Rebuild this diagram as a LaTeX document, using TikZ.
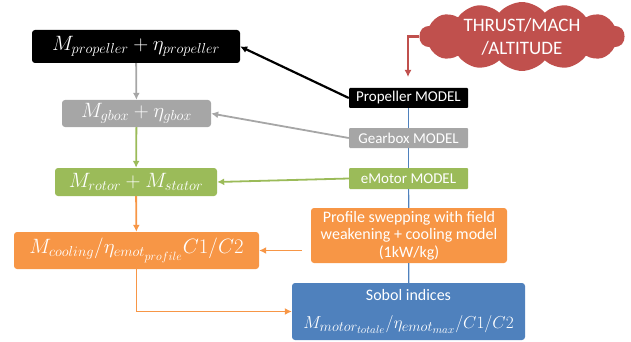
\documentclass[tikz,border=0pt]{standalone}
\usepackage{fontspec}
\setmainfont{Carlito}
\usetikzlibrary{arrows.meta,shapes.symbols}
\definecolor{gboxgray}{RGB}{166,166,166}
\definecolor{motgreen}{RGB}{155,187,89}
\definecolor{coolorange}{RGB}{247,150,70}
\definecolor{sobolblue}{RGB}{79,129,189}
\definecolor{cloudred}{RGB}{192,80,77}
\DeclareMathSizes{21}{21}{15.5}{12}
\DeclareMathSizes{18}{18}{13.5}{10.5}
\begin{document}
\begin{tikzpicture}[x=1pt,y=-1pt,
	box/.style={rounded corners=3pt,text=white,inner sep=0pt,align=center},
	res/.style={box,font=\fontsize{21}{24}\selectfont},
	model/.style={box,rounded corners=1pt,minimum width=119pt,minimum height=20pt,font=\fontsize{15}{18}\selectfont},
	link/.style={draw=sobolblue,line width=1.2pt},
	arr/.style={line width=1.8pt,-{Latex[length=7pt,width=7pt]}}]
	\useasboundingbox (0,0) rectangle (631,342);
	% results column
	\node[res,fill=black,minimum width=208pt,minimum height=33pt] (prop) at (136,46.5){$M_{propeller}+\eta_{propeller}$};
	\node[res,fill=gboxgray,minimum width=149pt,minimum height=27pt] (gbox) at (136.5,113.5){$M_{gbox}+\eta_{gbox}$};
	\node[res,fill=motgreen,minimum width=162pt,minimum height=28pt] (rotor) at (136,182){$M_{rotor}+M_{stator}$};
	\node[res,fill=coolorange,minimum width=245pt,minimum height=37pt] (cooling) at (136.5,250.5){$M_{cooling}/\eta_{emot_{profile}}C1/C2$};
	% models column
	\node[model,fill=black] (propmodel) at (408.5,98){Propeller MODEL};
	\node[model,fill=gboxgray] (gearmodel) at (408.5,138){Gearbox MODEL};
	\node[model,fill=motgreen,minimum height=21pt] (emotmodel) at (408.5,178.5){eMotor MODEL};
	\node[box,fill=coolorange,minimum width=196pt,minimum height=55pt,font=\fontsize{16}{17.5}\selectfont] (profile) at (409,235.5){Profile swepping with field\\weakening + cooling model\\(1kW/kg)};
	\node[box,fill=sobolblue,minimum width=233pt,minimum height=57pt,font=\fontsize{16}{28}\selectfont] (sobol) at (408.5,311.5){Sobol indices\\\fontsize{18}{28}\selectfont$M_{motor_{totale}}/\eta_{emot_{max}}/C1/C2$};
	\node[cloud,cloud puffs=14,cloud puff arc=100,aspect=3.3,fill=cloudred,text=white,inner sep=0pt,minimum width=205pt,minimum height=63pt,align=center,font=\fontsize{19}{23}\selectfont] (cloud) at (522,36.5){THRUST/MACH\\/ALTITUDE};
	\coordinate (thrustin) at (408,77);
	% connectors
	\draw[link] (propmodel) -- (gearmodel); \draw[link] (gearmodel) -- (emotmodel);
	\draw[link] (emotmodel) -- (profile); \draw[link] (profile) -- (sobol);
	\draw[arr,line width=2.2pt,cloudred] (cloud.west) -| (thrustin);
	\draw[arr,line width=2.2pt] (propmodel.west) -- (prop.east);
	\draw[arr,gboxgray] (gearmodel.west) -- (gbox.east);
	\draw[arr,motgreen] (emotmodel.west) -- (rotor.east);
	\draw[arr,coolorange,shorten <=9pt] (cooling.east -| profile.west) -- (cooling.east);
	\draw[arr,gboxgray] (prop) -- (gbox);
	\draw[arr,motgreen] (gbox) -- (rotor);
	\draw[arr,coolorange] (rotor) -- (cooling);
	\draw[arr,coolorange] (cooling.south) |- (sobol.west);
\end{tikzpicture}
\end{document}
